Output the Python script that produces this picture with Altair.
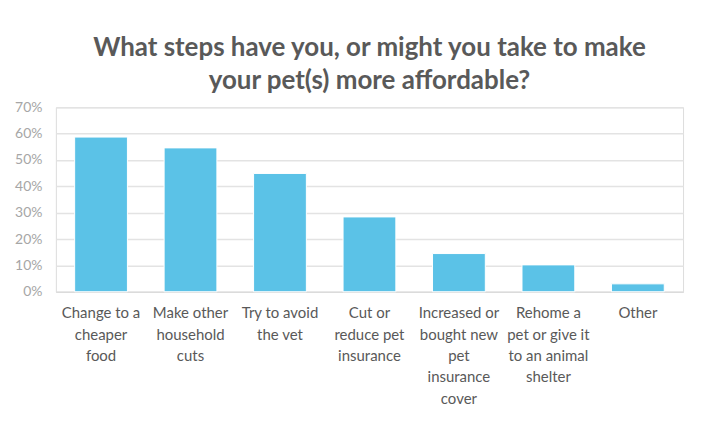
import altair as alt
import pandas as pd

categories = [
    "Change to a\ncheaper\nfood",
    "Make other\nhousehold\ncuts",
    "Try to avoid\nthe vet",
    "Cut or\nreduce pet\ninsurance",
    "Increased or\nbought new\npet\ninsurance\ncover",
    "Rehome a\npet or give it\nto an animal\nshelter",
    "Other",
]
values = [0.587, 0.546, 0.449, 0.284, 0.145, 0.102, 0.030]
y_ticks = [0, 0.1, 0.2, 0.3, 0.4, 0.5, 0.6, 0.7]

df = pd.DataFrame({"cat": categories, "val": values})

FONT = "Lato"

chart = alt.Chart(df).mark_bar(
    color="#5BC2E7", stroke="#FFFFFF", strokeWidth=1
).encode(
    x=alt.X(
        "cat:N",
        sort=categories,
        scale=alt.Scale(paddingInner=0.41, paddingOuter=0.21),
        axis=alt.Axis(
            title=None,
            labelAngle=0,
            labelExpr="split(datum.label, '\\n')",
            labelFont=FONT,
            labelFontSize=15,
            labelLineHeight=21.5,
            labelColor="#595959",
            labelPadding=14,
            labelBaseline="top",
            ticks=False,
            domain=True,
            domainColor="#D9D9D9",
            domainWidth=1,
            grid=False,
            labelLimit=200,
        ),
    ),
    y=alt.Y(
        "val:Q",
        scale=alt.Scale(domain=[0, 0.7], nice=False),
        axis=alt.Axis(
            title=None,
            values=y_ticks,
            format=".0%",
            labelFont=FONT,
            labelFontSize=14,
            labelColor="#A6A6A6",
            labelPadding=14,
            ticks=False,
            domain=False,
            grid=True,
            gridColor="#E3E3E3",
            gridWidth=1.5,
            minExtent=40,
            maxExtent=40,
        ),
    ),
).properties(
    width=629,
    height=185,
    padding={"left": 6, "top": 27, "right": 14, "bottom": 5},
    title=alt.TitleParams(
        text=["What steps have you, or might you take to make", "your pet(s) more affordable?"],
        font=FONT,
        fontSize=26,
        fontWeight="bold",
        color="#595959",
        lineHeight=33,
        anchor="middle",
        offset=6,
    ),
).configure_view(stroke=None).configure(background="#FFFFFF")

chart.save("out.html", embed_options={"renderer": "svg", "actions": False})
